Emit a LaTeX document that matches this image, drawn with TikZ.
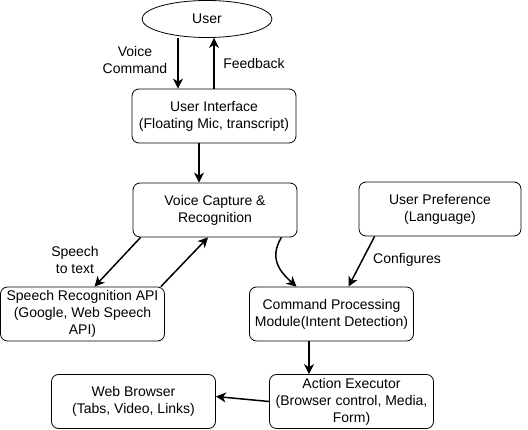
\documentclass[tikz,border=0pt]{standalone}
\usepackage{fontspec}
\setmainfont{Liberation Sans}
\usetikzlibrary{arrows.meta,shapes.geometric}
\begin{document}
\begin{tikzpicture}[x=1pt, y=-1pt, font=\fontsize{14}{17}\selectfont,
  box/.style={draw, rounded corners=7pt, minimum width=164pt, minimum height=54pt, align=center, line width=0.8pt, inner sep=1pt},
  flow/.style={-{Stealth[length=10pt, width=10pt, inset=3pt]}, line width=1.5pt},
  lbl/.style={align=center}]
\useasboundingbox (0,0) rectangle (528,430);
% boxes
\node [draw, ellipse, line width=0.8pt, minimum width=130pt, minimum height=37pt, inner sep=0pt] (user) at (207,19) {User};
\node [box] (ui) at (214,116) {User Interface\\(Floating Mic, transcript)};
\node [box] (capture) at (215,210) {Voice Capture \&\\Recognition};
\node [box, minimum width=162pt] (pref) at (440,209) {User Preference\\(Language)};
\node [box] (api) at (82.5,314) {Speech Recognition API\\(Google, Web Speech\\API)};
\node [box] (cmd) at (331.5,314) {Command Processing\\Module(Intent Detection)};
\node [box] (exec) at (351.5,401.5) {Action Executor\\(Browser control, Media,\\Form)};
\node [box] (web) at (133.5,401.5) {Web Browser\\(Tabs, Video, Links)};
% connectors
\coordinate (vc) at ([xshift=-36pt]ui.north);
\draw [flow] (user.south -| vc) -- (vc);
\draw [flow] (ui.north) -- (ui.north |- user.south);
\node [lbl] (vclbl) at (135,60) {Voice\\Command};
\node [lbl] (fblbl) at (254,63) {Feedback};
\draw [flow] ([xshift=-15pt]ui.south) -- ([xshift=-15pt]ui.south |- capture.north);
\draw [flow] ([xshift=8pt]capture.south west) -- ([xshift=12pt]api.north);
\draw [flow] ([xshift=-4pt]api.north east) -- ([xshift=-7pt]capture.south);
\node [lbl] (stlbl) at (75,260) {Speech\\to text};
\draw [flow] ([xshift=-16pt]capture.south east) .. controls +(-12,20) and +(-18,-16) .. ([xshift=-35pt]cmd.north);
\draw [flow] ([xshift=16pt]pref.south west) -- ([xshift=17pt]cmd.north);
\node [lbl] (cfglbl) at (407,260) {Configures};
\draw [flow] ([xshift=-22.5pt]cmd.south) -- ([xshift=-22.5pt]cmd.south |- exec.north);
\draw [flow] (exec.west) -- ([yshift=5pt]web.east);
\end{tikzpicture}
\end{document}
